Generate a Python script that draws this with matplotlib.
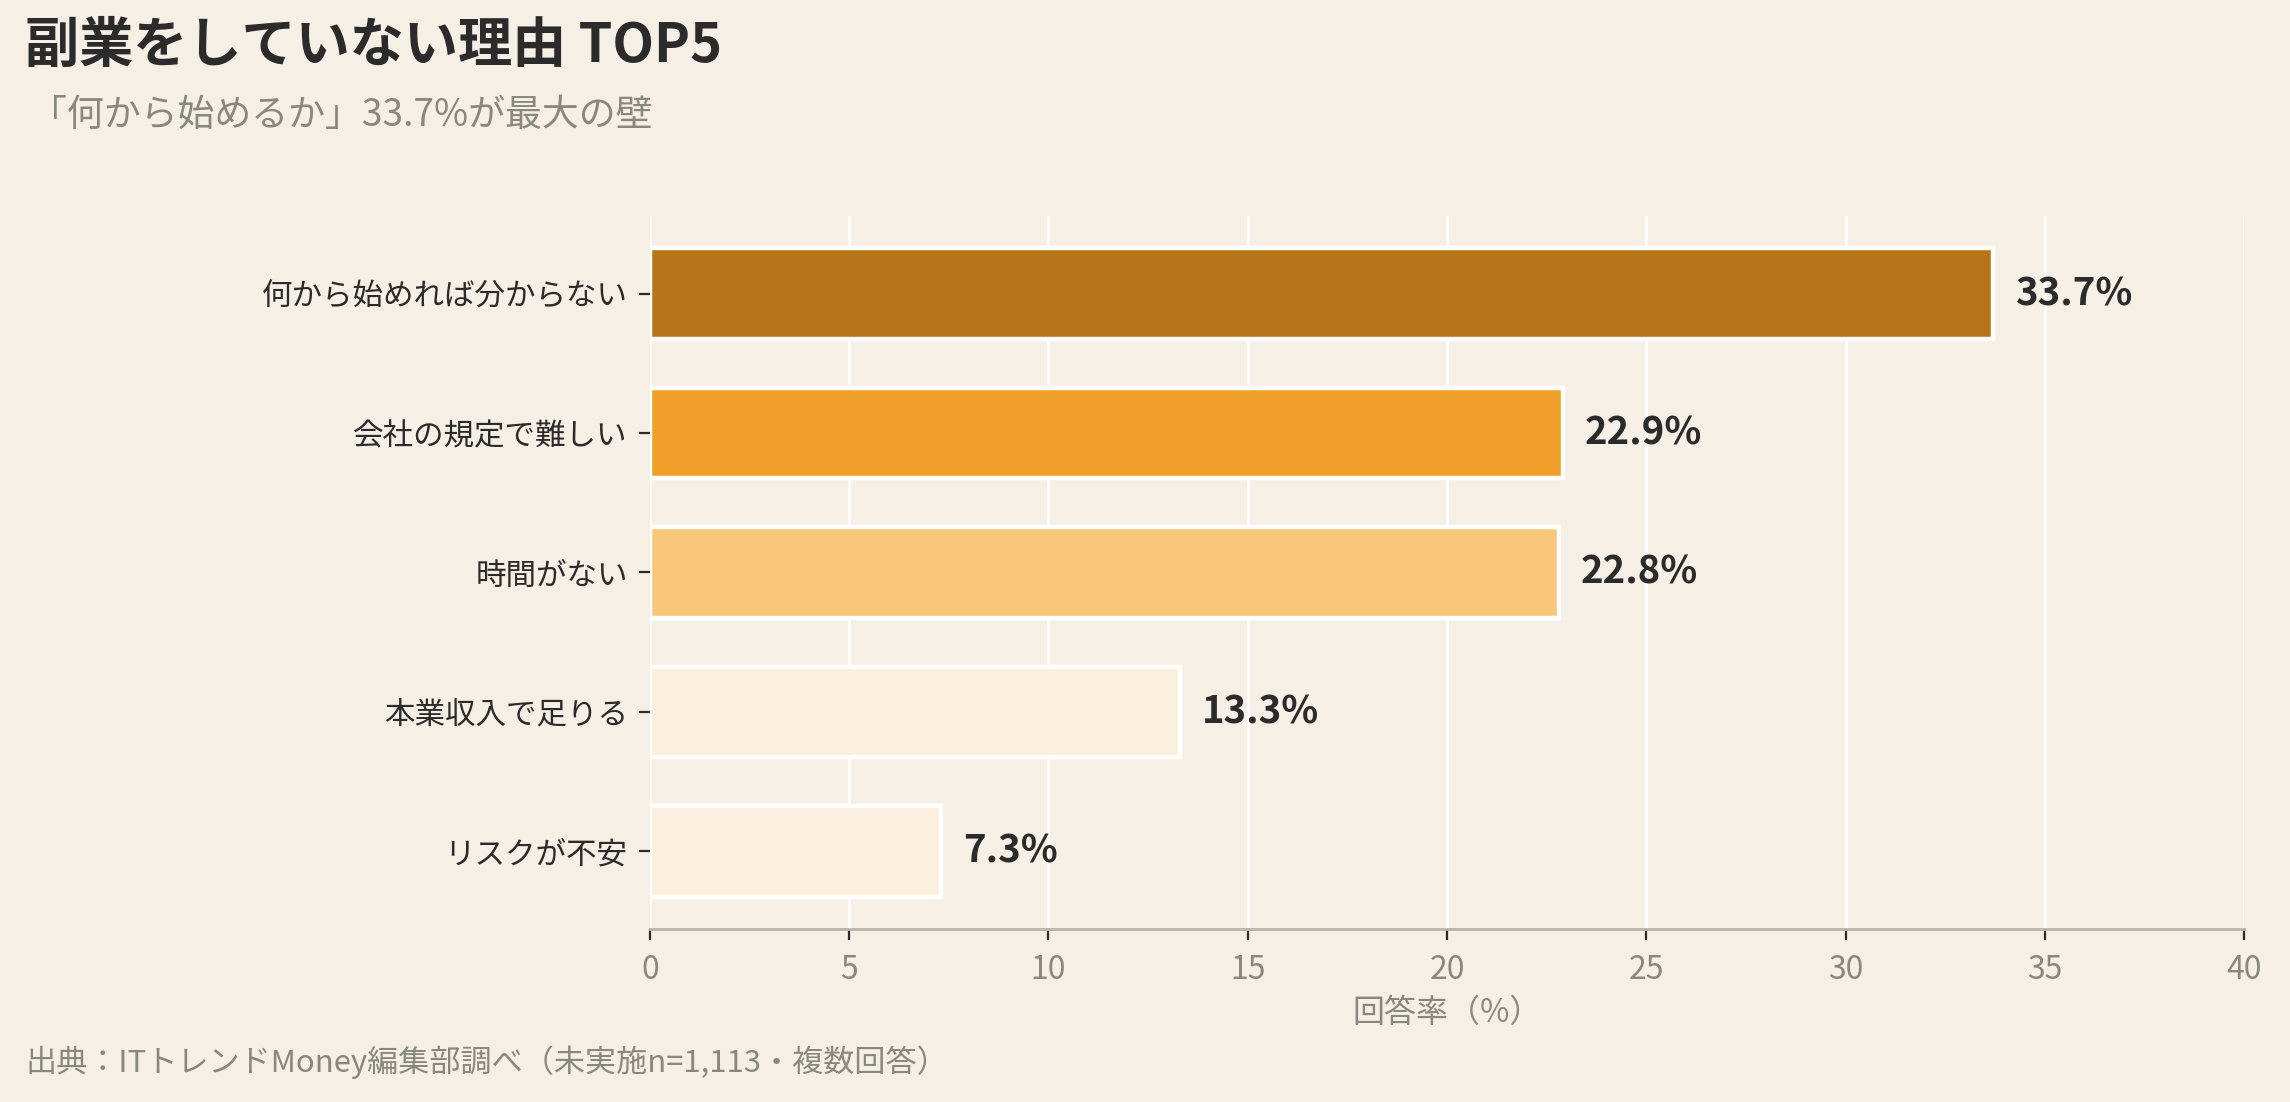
import matplotlib
matplotlib.use("Agg")
import matplotlib.pyplot as plt

plt.rcParams['font.family'] = ['Noto Sans CJK JP', 'DejaVu Sans']

categories = ["何から始めれば分からない", "会社の規定で難しい", "時間がない",
              "本業収入で足りる", "リスクが不安"]
values = [33.7, 22.9, 22.8, 13.3, 7.3]
bar_colors = ["#B87418", "#EF9F2A", "#F9C77A", "#FAEEDC", "#FAEEDC"]
xticks = [0, 5, 10, 15, 20, 25, 30, 35, 40]

BG = "#F5EFE6"
DARK = "#2B2B2B"
GREY = "#888880"

fig = plt.figure(figsize=(11.45, 5.51), dpi=200, facecolor=BG)
ax = fig.add_axes([0.2838, 0.157, 0.6962, 0.647], facecolor=BG)

ypos = list(range(len(categories)))
ax.barh(ypos, values, height=0.65, color=bar_colors, edgecolor="white",
        linewidth=1.6, zorder=3)
for y, v in zip(ypos, values):
    ax.text(v + 0.55, y, f"{v:.1f}%", va="center", ha="left",
            fontsize=13.8, fontweight="bold", color=DARK, zorder=4)

ax.set_yticks(ypos)
ax.set_yticklabels(categories, fontsize=11, color=DARK)
ax.invert_yaxis()
ax.set_xlim(0, 40)
ax.set_xticks(xticks)
ax.set_xticklabels([str(t) for t in xticks], fontsize=11.5, color=GREY)
ax.set_xlabel("回答率（%）", fontsize=11.5, color=GREY, labelpad=4)

ax.grid(axis="x", color="white", linewidth=0.9, zorder=0)
ax.set_axisbelow(True)
for s in ["top", "right", "left"]:
    ax.spines[s].set_visible(False)
ax.spines["bottom"].set_color("#B8B4A8")
ax.spines["bottom"].set_linewidth(1.0)
ax.tick_params(axis="x", length=4, width=0.8, color=DARK, pad=5)
ax.tick_params(axis="y", length=4, width=0.8, color=DARK, pad=4)

fig.text(0.011, 0.958, "副業をしていない理由 TOP5", fontsize=19.5, fontweight="bold",
         color=DARK, va="center", ha="left")
fig.text(0.013, 0.895, "「何から始めるか」33.7%が最大の壁", fontsize=13.3,
         color=GREY, va="center", ha="left")
fig.text(0.011, 0.036, "出典：ITトレンドMoney編集部調べ（未実施n=1,113・複数回答）",
         fontsize=11.2, color=GREY, va="center", ha="left")

fig.savefig("out.png", dpi=200, facecolor=BG)
